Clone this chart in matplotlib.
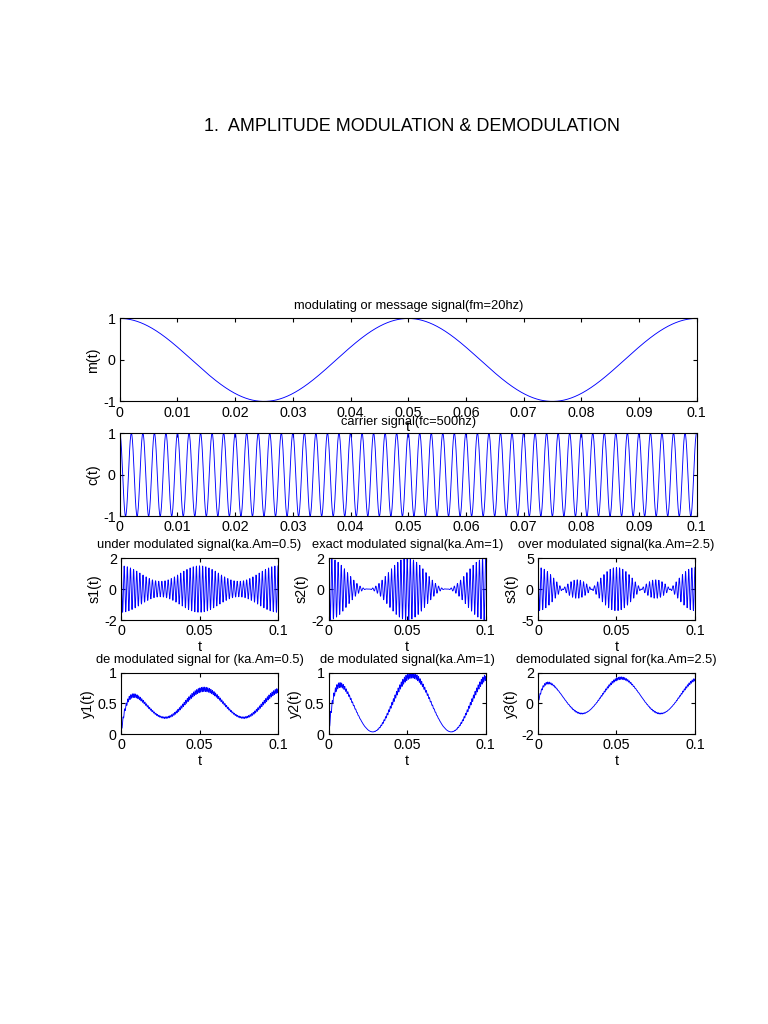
import numpy as np
import matplotlib
matplotlib.use('Agg')
import matplotlib.pyplot as plt

plt.rcParams['font.family'] = ['Liberation Sans', 'DejaVu Sans']
plt.rcParams['axes.unicode_minus'] = False

fm = 20          # frequencia da mensagem (Hz)
fc = 500         # frequencia da portadora (Hz)
fs = 20000       # amostragem
t_end = 0.1
ka_list = [0.5, 1, 2.5]
tau = 0.00315    # constante de tempo do filtro passa-baixa

mod_titles = ['under modulated signal(ka.Am=0.5)',
              'exact modulated signal(ka.Am=1)',
              'over modulated signal(ka.Am=2.5)']
demod_titles = ['de modulated signal for (ka.Am=0.5)',
                'de modulated signal(ka.Am=1)',
                'demodulated signal for(ka.Am=2.5)']
mod_ylabels = ['s1(t)', 's2(t)', 's3(t)']
demod_ylabels = ['y1(t)', 'y2(t)', 'y3(t)']
mod_ylim = [2, 2, 5]
demod_ylims = [(0, 1), (0, 1), (-2, 2)]
demod_yticks = [[0, 0.5, 1], [0, 0.5, 1], [-2, 0, 2]]

t = np.arange(0, t_end + 1 / fs / 2, 1 / fs)
m = np.cos(2 * np.pi * fm * t)
c = np.cos(2 * np.pi * fc * t)


def lowpass(x):
    # filtro RC de primeira ordem
    a = (1 / fs) / (tau + 1 / fs)
    y = np.zeros_like(x)
    for i in range(1, len(x)):
        y[i] = y[i - 1] + a * (x[i] - y[i - 1])
    return y


fs_txt = 9.3
fs_tick = 10.3
fs_lab = 10.3
fig = plt.figure(figsize=(7.68, 10.24), dpi=100)
fig.text(0.536, 0.876, '1.  AMPLITUDE MODULATION & DEMODULATION',
         ha='center', va='center', fontsize=13)

blue = (0, 0, 1)
lw = 0.65


def style(ax):
    ax.tick_params(direction='in', top=True, right=True, labelsize=fs_tick,
                   length=3, pad=3)
    for s in ax.spines.values():
        s.set_linewidth(0.8)


fine_ticks = [i / 100 for i in range(11)]
fine_labels = ['0'] + ['0.%02d' % i for i in range(1, 10)] + ['0.1']

ax1 = fig.add_axes([0.156, 0.608, 0.751, 0.081])
ax1.plot(t, m, color=blue, lw=lw)
ax1.set_xlim(0, 0.1)
ax1.set_ylim(-1, 1)
ax1.set_yticks([-1, 0, 1])
ax1.set_xticks(fine_ticks)
ax1.set_xticklabels(fine_labels)
ax1.set_title('modulating or message signal(fm=20hz)', fontsize=fs_txt, pad=7)
ax1.set_ylabel('m(t)', fontsize=fs_lab, labelpad=2)
ax1.set_xlabel('t', fontsize=fs_lab, labelpad=0)
style(ax1)

ax2 = fig.add_axes([0.156, 0.496, 0.751, 0.081])
ax2.plot(t, c, color=blue, lw=lw)
ax2.set_xlim(0, 0.1)
ax2.set_ylim(-1, 1)
ax2.set_yticks([-1, 0, 1])
ax2.set_xticks(fine_ticks)
ax2.set_xticklabels(fine_labels)
ax2.set_title('carrier signal(fc=500hz)', fontsize=fs_txt, pad=6)
ax2.set_ylabel('c(t)', fontsize=fs_lab, labelpad=2)
style(ax2)

lefts = [0.1576, 0.428, 0.7005]
for i, ka in enumerate(ka_list):
    s = (1 + ka * m) * c
    y = lowpass(s * c)

    ax = fig.add_axes([lefts[i], 0.3945, 0.2044, 0.0605])
    ax.plot(t, s, color=blue, lw=lw)
    ax.set_xlim(0, 0.1)
    ax.set_ylim(-mod_ylim[i], mod_ylim[i])
    ax.set_yticks([-mod_ylim[i], 0, mod_ylim[i]])
    ax.set_xticks([0, 0.05, 0.1])
    ax.set_xticklabels(['0', '0.05', '0.1'])
    ax.set_title(mod_titles[i], fontsize=fs_txt, pad=7)
    ax.set_ylabel(mod_ylabels[i], fontsize=fs_lab, labelpad=2)
    ax.set_xlabel('t', fontsize=fs_lab, labelpad=1)
    style(ax)

    ax = fig.add_axes([lefts[i], 0.2832, 0.2044, 0.0596])
    ax.plot(t, y, color=blue, lw=lw)
    ax.set_xlim(0, 0.1)
    ax.set_ylim(*demod_ylims[i])
    ax.set_yticks(demod_yticks[i])
    ax.set_yticklabels(['%g' % v for v in demod_yticks[i]])
    ax.set_xticks([0, 0.05, 0.1])
    ax.set_xticklabels(['0', '0.05', '0.1'])
    ax.set_title(demod_titles[i], fontsize=fs_txt, pad=7)
    ax.set_ylabel(demod_ylabels[i], fontsize=fs_lab, labelpad=2)
    ax.set_xlabel('t', fontsize=fs_lab, labelpad=1)
    style(ax)

fig.savefig('out.png', dpi=100)
